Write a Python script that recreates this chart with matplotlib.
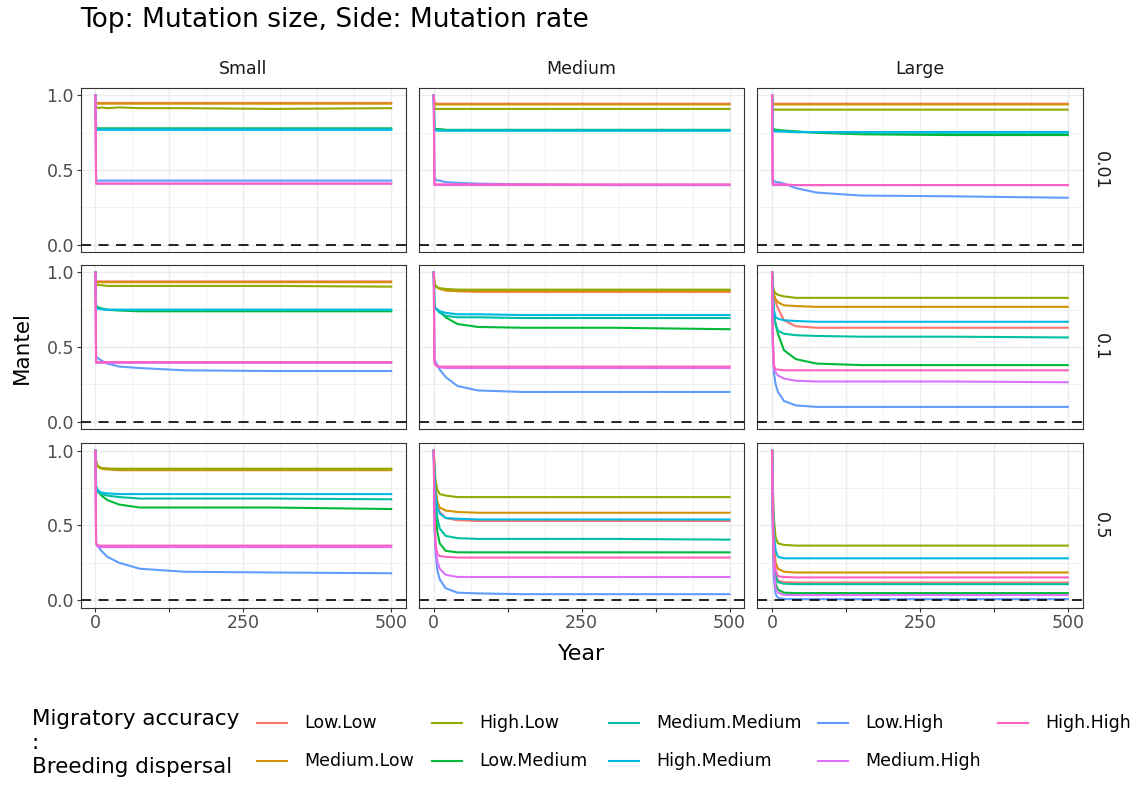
import numpy as np
import matplotlib.pyplot as plt
from matplotlib.lines import Line2D

W, H = 1147, 787
fig = plt.figure(figsize=(W / 100, H / 100), dpi=100)

series = ['Low.Low', 'Medium.Low', 'High.Low', 'Low.Medium', 'Medium.Medium',
          'High.Medium', 'Low.High', 'Medium.High', 'High.High']
colors = ['#F8766D', '#D39200', '#93AA00', '#00BA38', '#00C19F',
          '#00B9E3', '#619CFF', '#DB72FB', '#FF61C3']
sizes = ['Small', 'Medium', 'Large']
rates = ['0.01', '0.1', '0.5']
years = [0, 1, 3, 6, 10, 20, 40, 75, 150, 300, 500]

# Mantel correlation per year, one row per series (same order as `series`)
small_001 = [
    [1, .95, .95, .95, .95, .95, .95, .95, .95, .95, .95],
    [1, .945, .945, .945, .945, .945, .945, .945, .945, .945, .945],
    [1, .92, .92, .915, .92, .915, .92, .915, .915, .91, .915],
    [1, .78, .78, .78, .78, .78, .78, .78, .78, .78, .78],
    [1, .775, .775, .775, .775, .775, .775, .775, .775, .775, .775],
    [1, .77, .77, .77, .77, .77, .77, .77, .77, .77, .77],
    [1, .43, .43, .43, .43, .43, .43, .43, .43, .43, .43],
    [1, .41, .41, .41, .41, .41, .41, .41, .41, .41, .41],
    [1, .41, .41, .41, .41, .41, .41, .41, .41, .41, .41],
]
medium_001 = [
    [1, .945, .945, .945, .945, .945, .945, .945, .945, .945, .945],
    [1, .94, .94, .94, .94, .94, .94, .94, .94, .94, .94],
    [1, .91, .91, .91, .91, .91, .91, .91, .91, .91, .91],
    [1, .775, .775, .775, .775, .77, .77, .77, .77, .77, .77],
    [1, .77, .77, .77, .765, .765, .765, .765, .765, .765, .765],
    [1, .765, .765, .765, .765, .765, .765, .765, .765, .765, .765],
    [1, .44, .44, .43, .43, .42, .415, .41, .405, .40, .40],
    [1, .40, .40, .40, .40, .40, .40, .40, .40, .40, .40],
    [1, .405, .405, .405, .405, .405, .405, .405, .405, .405, .405],
]
large_001 = [
    [1, .945, .945, .945, .945, .945, .945, .945, .945, .945, .945],
    [1, .94, .94, .94, .94, .94, .94, .94, .94, .94, .94],
    [1, .91, .905, .905, .905, .905, .905, .905, .905, .905, .905],
    [1, .775, .775, .77, .77, .765, .76, .75, .74, .735, .735],
    [1, .765, .765, .76, .76, .76, .755, .755, .75, .75, .75],
    [1, .76, .76, .76, .76, .76, .755, .755, .755, .755, .755],
    [1, .43, .43, .42, .42, .41, .38, .35, .33, .325, .315],
    [1, .40, .40, .40, .40, .40, .40, .40, .40, .40, .40],
    [1, .405, .405, .405, .405, .405, .40, .40, .40, .40, .40],
]
small_01 = [
    [1, .94, .94, .94, .94, .94, .94, .94, .94, .94, .94],
    [1, .935, .935, .935, .935, .935, .935, .935, .935, .935, .935],
    [1, .92, .92, .915, .915, .91, .91, .91, .91, .91, .905],
    [1, .775, .77, .765, .76, .75, .745, .74, .74, .74, .74],
    [1, .765, .76, .76, .755, .75, .75, .75, .75, .75, .75],
    [1, .76, .76, .755, .755, .75, .75, .75, .75, .75, .75],
    [1, .43, .43, .42, .41, .39, .37, .36, .345, .34, .34],
    [1, .395, .395, .395, .395, .395, .395, .395, .395, .395, .395],
    [1, .40, .40, .40, .40, .40, .40, .40, .40, .40, .40],
]
medium_01 = [
    [1, .93, .91, .90, .89, .88, .875, .87, .87, .87, .87],
    [1, .93, .91, .90, .89, .88, .875, .875, .875, .875, .875],
    [1, .93, .91, .90, .895, .89, .885, .885, .885, .885, .885],
    [1, .78, .76, .75, .74, .70, .655, .635, .63, .63, .62],
    [1, .77, .76, .75, .73, .71, .70, .70, .695, .695, .695],
    [1, .77, .76, .75, .74, .73, .72, .72, .715, .715, .715],
    [1, .42, .40, .38, .35, .30, .24, .21, .20, .20, .20],
    [1, .40, .38, .37, .365, .36, .36, .36, .36, .36, .36],
    [1, .40, .38, .375, .37, .37, .37, .37, .37, .37, .37],
]
large_01 = [
    [1, .92, .85, .80, .76, .68, .64, .63, .63, .63, .63],
    [1, .90, .85, .82, .80, .78, .775, .77, .77, .77, .77],
    [1, .92, .88, .86, .85, .84, .83, .83, .83, .83, .83],
    [1, .85, .72, .65, .59, .48, .42, .39, .38, .38, .38],
    [1, .85, .72, .65, .61, .59, .58, .575, .57, .57, .565],
    [1, .85, .75, .70, .69, .68, .675, .67, .67, .67, .67],
    [1, .55, .33, .25, .20, .14, .11, .10, .10, .10, .10],
    [1, .55, .36, .33, .31, .29, .275, .27, .27, .27, .265],
    [1, .60, .38, .35, .35, .345, .345, .345, .345, .345, .345],
]
small_05 = [
    [1, .93, .90, .89, .885, .88, .875, .875, .875, .875, .875],
    [1, .93, .90, .89, .88, .875, .87, .87, .87, .87, .87],
    [1, .93, .90, .89, .885, .88, .88, .88, .88, .88, .88],
    [1, .75, .73, .72, .70, .67, .64, .62, .62, .62, .61],
    [1, .76, .74, .72, .71, .70, .69, .68, .68, .68, .675],
    [1, .76, .74, .73, .72, .715, .71, .71, .71, .71, .71],
    [1, .38, .37, .35, .33, .29, .25, .21, .19, .185, .18],
    [1, .38, .36, .355, .355, .355, .355, .355, .355, .355, .355],
    [1, .38, .37, .365, .365, .365, .365, .365, .365, .365, .365],
]
medium_05 = [
    [1, .88, .74, .64, .59, .55, .535, .53, .53, .53, .53],
    [1, .88, .75, .66, .62, .60, .59, .585, .585, .585, .585],
    [1, .90, .80, .74, .71, .70, .69, .69, .69, .69, .69],
    [1, .78, .58, .46, .38, .33, .32, .32, .32, .32, .32],
    [1, .82, .65, .55, .48, .43, .415, .41, .41, .41, .405],
    [1, .85, .70, .62, .58, .55, .545, .54, .54, .54, .54],
    [1, .50, .32, .20, .14, .08, .05, .045, .04, .04, .04],
    [1, .55, .35, .26, .21, .17, .155, .155, .155, .155, .155],
    [1, .60, .38, .31, .295, .29, .285, .285, .285, .285, .285],
]
large_05 = [
    [1, .65, .30, .17, .13, .12, .118, .118, .118, .118, .118],
    [1, .70, .38, .25, .21, .19, .185, .185, .185, .185, .185],
    [1, .80, .55, .42, .38, .37, .365, .365, .365, .365, .365],
    [1, .60, .25, .11, .07, .05, .047, .047, .047, .047, .047],
    [1, .65, .30, .16, .12, .11, .107, .107, .107, .107, .107],
    [1, .75, .45, .33, .29, .28, .28, .28, .28, .28, .28],
    [1, .50, .15, .04, .015, .008, .007, .007, .007, .007, .007],
    [1, .55, .20, .08, .05, .035, .034, .034, .034, .034, .034],
    [1, .65, .32, .20, .16, .155, .152, .152, .152, .152, .152],
]

panels = [[small_001, medium_001, large_001],
          [small_01, medium_01, large_01],
          [small_05, medium_05, large_05]]

# panel geometry in pixels
col_left = [80.7, 419.0, 757.3]
col_w = 325.3
row_top = [88.0, 265.0, 443.3]
row_h = 164.3

grid_col = '#EBEBEB'
dark = '#333333'

for r in range(3):
    for c in range(3):
        ax = fig.add_axes([col_left[c] / W, 1 - (row_top[r] + row_h) / H,
                           col_w / W, row_h / H])
        ax.set_xlim(-25, 525)
        ax.set_ylim(-0.05, 1.05)
        for xv in [62.5, 187.5, 312.5, 437.5]:
            ax.axvline(xv, color=grid_col, lw=0.5, zorder=0)
        for yv in [0.25, 0.75]:
            ax.axhline(yv, color=grid_col, lw=0.5, zorder=0)
        for xv in [0, 125, 250, 375, 500]:
            ax.axvline(xv, color=grid_col, lw=1.0, zorder=0)
        for yv in [0, 0.5, 1.0]:
            ax.axhline(yv, color=grid_col, lw=1.0, zorder=0)

        for vals, col in zip(panels[r][c], colors):
            ax.plot(years, vals, color=col, lw=1.5, zorder=2)
        ax.axhline(0, color='black', lw=1.2, ls=(0, (6, 4.5)), zorder=3)

        for sp in ax.spines.values():
            sp.set_color(dark)
            sp.set_linewidth(0.8)
        ax.set_xticks([0, 125, 250, 375, 500])
        ax.set_yticks([0, 0.5, 1.0])
        ax.tick_params(color=dark, length=2.75, width=0.8, pad=2,
                       labelcolor='#4D4D4D', labelsize=12.5)
        if r == 2:
            ax.set_xticklabels(['0', '', '250', '', '500'])
        else:
            ax.tick_params(axis='x', length=0, labelbottom=False)
        if c == 0:
            ax.set_yticklabels(['0.0', '0.5', '1.0'])
        else:
            ax.tick_params(axis='y', length=0, labelleft=False)

# strip labels
for c, name in enumerate(sizes):
    fig.text((col_left[c] + col_w / 2) / W, 1 - 69 / H, name,
             ha='center', va='center', fontsize=12.5, color='#1A1A1A')
for r, name in enumerate(rates):
    fig.text(1101 / W, 1 - (row_top[r] + row_h / 2) / H, name, rotation=270,
             ha='center', va='center', fontsize=12.5, color='#1A1A1A')

fig.text(80 / W, 1 - 20 / H, 'Top: Mutation size, Side: Mutation rate',
         ha='left', va='center', fontsize=19)
fig.text(22 / W, 1 - 348 / H, 'Mantel', rotation=90,
         ha='center', va='center', fontsize=15.5)
fig.text(582 / W, 1 - 654 / H, 'Year', ha='center', va='center', fontsize=16)

# legend
fig.text(32 / W, 1 - 743 / H, 'Migratory accuracy\n:\nBreeding dispersal',
         ha='left', va='center', fontsize=15.5, linespacing=1.22)
key_x = [257, 432, 609, 818, 998]
row_y = [723, 761]
for i, (name, col) in enumerate(zip(series, colors)):
    kx = key_x[i // 2]
    ky = row_y[i % 2]
    fig.add_artist(Line2D([kx / W, (kx + 30) / W], [1 - ky / H, 1 - ky / H],
                          color=col, lw=1.5))
    fig.text((kx + 47) / W, 1 - ky / H, name, ha='left', va='center',
             fontsize=12.5)

fig.savefig('out.png', dpi=100)
